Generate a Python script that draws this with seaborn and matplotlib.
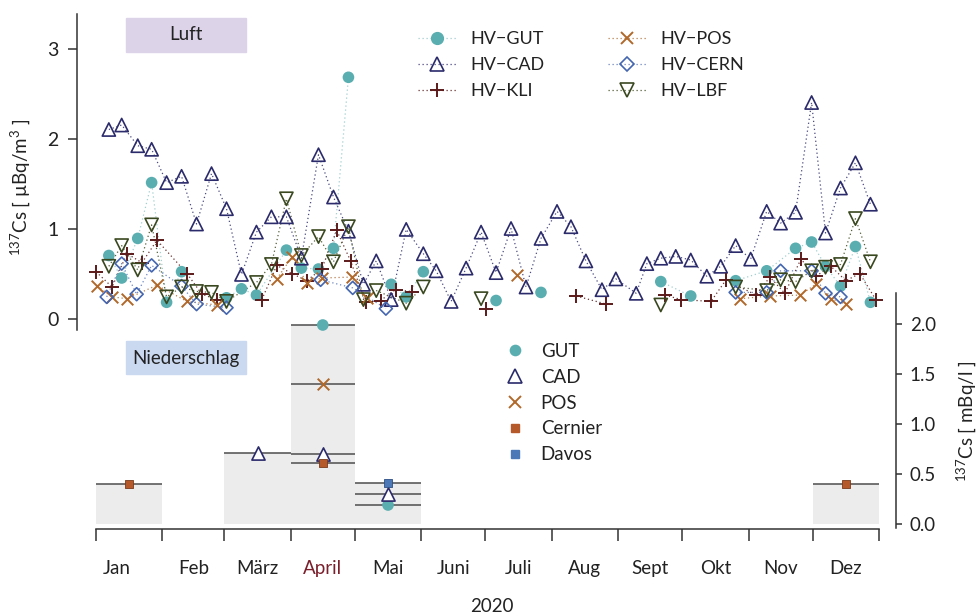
import numpy as np
import pandas as pd
import matplotlib
matplotlib.use("Agg")
import matplotlib.pyplot as plt
from matplotlib.lines import Line2D
from matplotlib.patches import Rectangle
import seaborn as sns

# ---------------- data ----------------
month_names = ["Jan", "Feb", "März", "April", "Mai", "Juni", "Juli", "Aug", "Sept", "Okt", "Nov", "Dez"]
month_starts = [0, 31, 60, 91, 121, 152, 182, 213, 244, 274, 305, 335, 366]

# air filters (HV), day of year 2020, 137Cs in µBq/m3
gut_days = [6, 12, 19.5, 26, 33, 40, 61, 68, 75, 89, 96, 104, 111, 118, 138, 145, 153, 187, 208,
            264, 278, 299, 313.5, 327, 334.5, 341, 348, 355, 362]
gut_vals = [0.70, 0.45, 0.89, 1.51, 0.18, 0.52, 0.23, 0.33, 0.26, 0.76, 0.56, 0.55, 0.78, 2.68, 0.38, 0.24, 0.52, 0.20, 0.29,
            0.41, 0.25, 0.42, 0.53, 0.78, 0.85, 0.58, 0.36, 0.80, 0.18]

cad_days = [6, 12, 19.5, 26, 33, 40, 47, 54, 61, 68, 75, 82, 89, 96, 104, 111, 118, 125, 131, 138,
            145, 153, 159, 166, 173, 180, 187, 194, 201, 208, 215.5, 222, 229, 236.5, 243, 252.5, 257.5, 264, 271, 278,
            285.5, 292, 299, 306, 313.5, 320, 327, 334.5, 341, 348, 355, 362]
cad_vals = [2.10, 2.15, 1.92, 1.88, 1.51, 1.58, 1.05, 1.61, 1.22, 0.49, 0.96, 1.13, 1.13, 0.67, 1.82, 1.35, 0.97, 0.38, 0.64, 0.21,
            0.99, 0.72, 0.53, 0.19, 0.56, 0.96, 0.51, 1.00, 0.35, 0.89, 1.19, 1.02, 0.64, 0.32, 0.44, 0.28, 0.61, 0.67, 0.69, 0.65,
            0.47, 0.58, 0.81, 0.66, 1.19, 1.06, 1.18, 2.40, 0.95, 1.45, 1.73, 1.27]

kli_days = [0, 7.5, 14.5, 21.5, 28.5, 42.5, 49.5, 56.5, 77.5, 84.5, 91.5, 98.5, 105.5, 112.5, 119, 126, 133, 140, 147.5, 182.5,
            224.5, 238.5, 266, 273.5, 287.5, 294.5, 308.5, 315, 322, 329.5, 336.5, 343.5, 350.5, 357, 364.5]
kli_vals = [0.52, 0.35, 0.72, 0.62, 0.87, 0.50, 0.27, 0.21, 0.21, 0.59, 0.50, 0.42, 0.55, 0.98, 0.64, 0.18, 0.20, 0.32, 0.30, 0.11,
            0.25, 0.16, 0.26, 0.21, 0.19, 0.43, 0.26, 0.46, 0.28, 0.66, 0.47, 0.58, 0.42, 0.50, 0.21]

pos_days = [0.5, 7.5, 14.5, 28.5, 42.5, 56.5, 84.5, 91.5, 98.5, 105.5, 119.5, 126.5, 197, 301, 315, 329, 336.5, 343.5, 350.5]
pos_vals = [0.36, 0.24, 0.22, 0.37, 0.19, 0.15, 0.44, 0.68, 0.40, 0.45, 0.46, 0.23, 0.48, 0.22, 0.25, 0.26, 0.38, 0.22, 0.16]

cern_days = [5, 12, 19, 26, 40, 47, 61, 105, 120, 135.5, 299, 313.5, 320, 334.5, 341, 348]
cern_vals = [0.24, 0.61, 0.27, 0.59, 0.36, 0.16, 0.12, 0.43, 0.34, 0.11, 0.29, 0.29, 0.53, 0.53, 0.28, 0.24]

lbf_days = [6, 12, 19.5, 26, 33, 40, 47, 54, 61, 75, 82, 89, 96, 104, 111, 118, 125, 131, 145, 153, 180,
            264, 299, 313.5, 320, 327, 334.5, 341, 348, 355, 362]
lbf_vals = [0.58, 0.81, 0.54, 1.04, 0.24, 0.35, 0.30, 0.29, 0.19, 0.40, 0.60, 1.33, 0.70, 0.91, 0.63, 1.02, 0.21, 0.31, 0.17, 0.35, 0.22,
            0.15, 0.35, 0.31, 0.43, 0.41, 0.53, 0.57, 0.60, 1.11, 0.63]

# precipitation (monthly), 137Cs in mBq/l
precip_station = ["Cernier", "CAD", "GUT", "POS", "CAD", "Cernier", "Davos", "CAD", "GUT", "Cernier"]
precip_month = ["Jan", "März", "April", "April", "April", "April", "Mai", "Mai", "Mai", "Dez"]
precip_value = [0.40, 0.71, 1.99, 1.40, 0.70, 0.61, 0.41, 0.30, 0.19, 0.40]

# ---------------- style ----------------
sns.set_theme(style="white")
plt.rcParams["font.family"] = ["Lato", "DejaVu Sans"]
plt.rcParams["mathtext.fontset"] = "custom"
plt.rcParams["mathtext.rm"] = "Lato"
plt.rcParams["mathtext.it"] = "Lato:italic"
plt.rcParams["mathtext.bf"] = "Lato:bold"
TXT = "#222222"

W, H = 977, 616
fig = plt.figure(figsize=(W / 100, H / 100), dpi=100)
fx = lambda px: px / W
fy = lambda py: 1 - py / H

ax = fig.add_axes([fx(96), fy(524), fx(879) - fx(96), fy(14) - fy(524)])
ax2 = ax.twinx()
ax.set_xlim(0, 366)
ax.set_ylim((318.5 - 524) / 90, (318.5 - 14) / 90)
ax2.set_ylim(0, (524 - 14) / 100)

# ---------------- air series ----------------
air = [
    ("HV\u2212GUT", gut_days, gut_vals, "o", "#5aaeb0", "#a3cfcf", "filled", 70),
    ("HV\u2212CAD", cad_days, cad_vals, "^", "#2b2a6b", "#4a4a80", "open", 90),
    ("HV\u2212KLI", kli_days, kli_vals, "+", "#5c1a1a", "#6a3434", "line", 110),
    ("HV\u2212POS", pos_days, pos_vals, "x", "#b0692a", "#b88050", "line", 70),
    ("HV\u2212CERN", cern_days, cern_vals, "D", "#4466b0", "#6c86c0", "open", 44),
    ("HV\u2212LBF", lbf_days, lbf_vals, "v", "#3a4820", "#55603a", "open", 90),
]
dots = (0, (1, 2.2))
handles = []
for label, days, vals, m, c, lc, kind, s in air:
    df = pd.DataFrame({"day": days, "val": vals})
    df["seg"] = (df["day"].diff() > 16).cumsum()
    sns.lineplot(data=df, x="day", y="val", units="seg", estimator=None, sort=False,
                 ax=ax, color=lc, lw=0.9, linestyle=dots, legend=False, zorder=2)
    if kind == "filled":
        sns.scatterplot(data=df, x="day", y="val", ax=ax, marker=m, s=s, color=c,
                        edgecolor="none", linewidth=0, legend=False, zorder=3, clip_on=False)
        h = Line2D([], [], color=lc, ls=dots, lw=0.9, marker=m, ms=8.5, mfc=c, mec=c)
    elif kind == "open":
        sns.scatterplot(data=df, x="day", y="val", ax=ax, marker=m, s=s, facecolor="none",
                        edgecolor=c, linewidth=1.2, legend=False, zorder=3, clip_on=False)
        h = Line2D([], [], color=lc, ls=dots, lw=0.9, marker=m, ms=np.sqrt(s), mfc="none", mec=c, mew=1.2)
    else:
        sns.scatterplot(data=df, x="day", y="val", ax=ax, marker=m, s=s, color=c,
                        linewidth=1.4, legend=False, zorder=3, clip_on=False)
        h = Line2D([], [], color=lc, ls=dots, lw=0.9, marker=m, ms=np.sqrt(s), mec=c, mew=1.4)
    handles.append((h, label))

# ---------------- precipitation ----------------
prec = pd.DataFrame({"station": precip_station, "month": precip_month, "value": precip_value})
prec["mi"] = prec["month"].map(month_names.index)
prec["start"] = [month_starts[i] for i in prec["mi"]]
prec["end"] = [month_starts[i + 1] for i in prec["mi"]]
prec["mid"] = (prec["start"] + prec["end"]) / 2
bars = prec.groupby("mi").agg(start=("start", "first"), end=("end", "first"), top=("value", "max"))
ax2.bar(bars["start"], bars["top"], width=bars["end"] - bars["start"], align="edge",
        color="#ececec", edgecolor="none", zorder=0)
ax2.hlines(prec["value"], prec["start"], prec["end"], color="#4d4d4d", lw=1.1, zorder=1)

pstyle = {
    "GUT": dict(marker="o", s=70, color="#5aaeb0", edgecolor="none", linewidth=0),
    "CAD": dict(marker="^", s=90, facecolor="white", edgecolor="#2b2a6b", linewidth=1.2),
    "POS": dict(marker="x", s=70, color="#b0692a", linewidth=1.4),
    "Cernier": dict(marker="s", s=36, color="#b5582a", edgecolor="#7a3a1a", linewidth=0.6),
    "Davos": dict(marker="s", s=36, color="#4c78b8", edgecolor="#2d4f86", linewidth=0.6),
}
for st, kw in pstyle.items():
    sub = prec[prec["station"] == st]
    if len(sub):
        sns.scatterplot(data=sub, x="mid", y="value", ax=ax2, legend=False, zorder=4, **kw)

phandles = [
    Line2D([], [], ls="none", marker="o", ms=8.4, mfc="#5aaeb0", mec="none"),
    Line2D([], [], ls="none", marker="^", ms=9.5, mfc="none", mec="#2b2a6b", mew=1.2),
    Line2D([], [], ls="none", marker="x", ms=8.4, mec="#b0692a", mew=1.4),
    Line2D([], [], ls="none", marker="s", ms=6, mfc="#b5582a", mec="#b5582a"),
    Line2D([], [], ls="none", marker="s", ms=6, mfc="#4c78b8", mec="#4c78b8"),
]
plabels = ["GUT", "CAD", "POS", "Cernier", "Davos"]

# ---------------- axes styling ----------------
for a in (ax, ax2):
    a.set_xlabel("")
    a.set_ylabel("")
    a.patch.set_visible(False)
    for sp in a.spines.values():
        sp.set_visible(False)
    a.grid(False)

ax.spines["left"].set_visible(True)
ax.spines["left"].set_position(("outward", 19 * 0.72))
ax.spines["left"].set_bounds((318.5 - 330) / 90, (318.5 - 14) / 90)
ax.spines["bottom"].set_visible(True)
ax.spines["bottom"].set_position(("outward", 5 * 0.72))
for sp in ("left", "bottom"):
    ax.spines[sp].set_color("#333333")
    ax.spines[sp].set_linewidth(1.1)
ax.set_yticks([0, 1, 2, 3])
ax.tick_params(axis="y", which="major", left=True, direction="out", length=6.5, width=1.1,
               color="#333333", pad=7, labelsize=14, labelcolor=TXT)

ax.set_xticks(month_starts)
ax.set_xticklabels([])
label_pos = [9.5] + [(month_starts[i] + month_starts[i + 1]) / 2 for i in range(1, 12)]
ax.set_xticks(label_pos, minor=True)
ax.set_xticklabels(month_names, minor=True)
ax.tick_params(axis="x", which="major", bottom=True, direction="out", length=8.6, width=1.1, color="#333333")
ax.tick_params(axis="x", which="minor", bottom=True, length=0, pad=22, labelsize=13.5, labelcolor=TXT)
for t in ax.get_xticklabels(minor=True):
    if t.get_text() == "April":
        t.set_color("#7a1f2b")

ax2.spines["right"].set_visible(True)
ax2.spines["right"].set_position(("outward", 17 * 0.72))
ax2.spines["right"].set_bounds(-0.04, 2.31)
ax2.spines["right"].set_color("#333333")
ax2.spines["right"].set_linewidth(1.1)
ax2.set_yticks([0, 0.5, 1.0, 1.5, 2.0])
ax2.set_yticklabels(["0.0", "0.5", "1.0", "1.5", "2.0"])
ax2.tick_params(axis="y", which="major", right=True, direction="out", length=4, width=1.1,
                color="#333333", pad=6, labelsize=13.5, labelcolor=TXT)

# ---------------- legends ----------------
leg_kw = dict(frameon=False, fontsize=13, handlelength=2.1, handletextpad=0.8,
              labelspacing=0.56, borderpad=0, borderaxespad=0, labelcolor=TXT)
l1 = fig.legend([h for h, _ in handles[:3]], [l for _, l in handles[:3]], loc="upper left",
                bbox_to_anchor=(fx(418), fy(31)), **leg_kw)
l2 = fig.legend([h for h, _ in handles[3:]], [l for _, l in handles[3:]], loc="upper left",
                bbox_to_anchor=(fx(608), fy(31)), **leg_kw)
l3 = fig.legend(phandles, plabels, loc="upper left", bbox_to_anchor=(fx(506), fy(343)),
                frameon=False, fontsize=13.5, handlelength=1.0, handletextpad=0.85, labelspacing=0.47,
                borderpad=0, borderaxespad=0, labelcolor=TXT)

# ---------------- labels & boxes ----------------
fig.patches.append(Rectangle((fx(126), fy(52)), fx(246) - fx(126), fy(18) - fy(52),
                             transform=fig.transFigure, color="#dcd3e8", zorder=0))
fig.text(fx(186), fy(35), "Luft", ha="center", va="center", fontsize=13.5, color=TXT)
fig.patches.append(Rectangle((fx(126), fy(374)), fx(246) - fx(126), fy(341) - fy(374),
                             transform=fig.transFigure, color="#cad9f0", zorder=0))
fig.text(fx(186), fy(358), "Niederschlag", ha="center", va="center", fontsize=13.5, color=TXT)

fig.text(fx(20), fy(187), r"$\mathregular{^{137}}$Cs [ µBq/m$\mathregular{^3}$ ]", rotation=90,
         ha="center", va="center", fontsize=13.5, color=TXT)
fig.text(fx(966), fy(421), r"$\mathregular{^{137}}$Cs [ mBq/l ]", rotation=90,
         ha="center", va="center", fontsize=13.5, color=TXT)
fig.text(fx(492), fy(606), "2020", ha="center", va="center", fontsize=13.5, color=TXT)

fig.savefig("out.png", dpi=100)
